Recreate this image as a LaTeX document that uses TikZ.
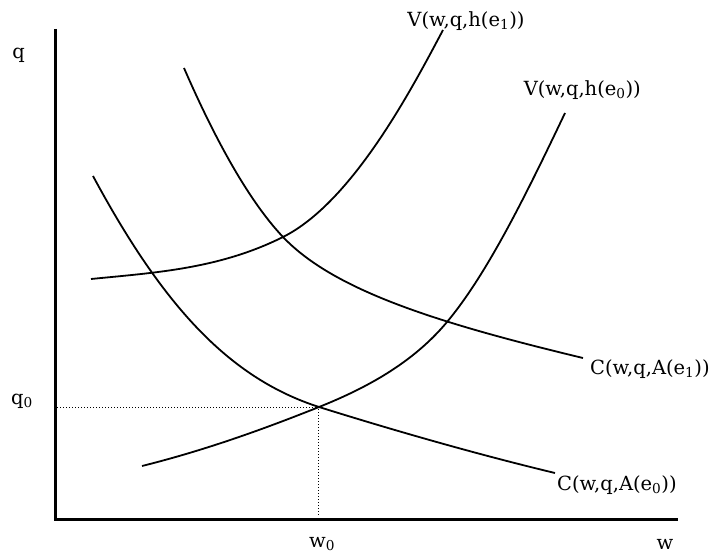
\documentclass[tikz,border=0pt]{standalone}
\usepackage{fontspec}
\setmainfont{DejaVu Serif}
\usetikzlibrary{intersections}
\begin{document}
\begin{tikzpicture}[x=1pt,y=-1pt,
  axis/.style={line width=3pt},
  curve/.style={line width=1.8pt},
  guide/.style={line width=1pt, dotted},
  lbl/.style={font=\fontsize{19.5}{22}\selectfont, inner sep=0pt}]
\useasboundingbox (0,0) rectangle (711,556);
% axes
\coordinate (O) at (55,519);
\coordinate (top) at (55,29);
\coordinate (right) at (678,519);
\draw[axis] (top) -- (O) -- (right);
% V(e1)
\draw[curve] (91,279) .. controls (155,272.6) and (219,269) .. (283,237)
  .. controls (353,202) and (413,86.5) .. (443,30);
% V(e0)
\draw[curve, name path=V0] (142,466) .. controls (202,451) and (259,431) .. (319,407)
  .. controls (364,389) and (412,364) .. (447,322)
  .. controls (487,274) and (525,197) .. (565,113);
% C(e1)
\draw[curve] (184,68) .. controls (214,137) and (248,200) .. (283,237)
  .. controls (333,289.5) and (433,322) .. (583,358);
% C(e0)
\draw[curve, name path=C0] (93,176) .. controls (163,306) and (229,378) .. (319,407)
  .. controls (399,432) and (480,455) .. (555,473);
% guides
\path[name intersections={of=V0 and C0, by=E}];
\coordinate (Ey) at (57,0);
\coordinate (Ex) at (0,517);
\draw[guide] (E -| Ey) -- (E) -- (E |- Ex);
% labels
\node[lbl] (q) at (18.5,55) {q};
\node[lbl] (q0) at (22,401) {q\textsubscript{0}};
\node[lbl] (w0) at (322,544) {w\textsubscript{0}};
\node[lbl] (w) at (665,544) {w};
\node[lbl] (V1) at (466,21) {V(w,q,h(e\textsubscript{1}))};
\node[lbl, anchor=east] (V0) at (641,90) {V(w,q,h(e\textsubscript{0}))};
\node[lbl, anchor=west] (C1) at (590,369) {C(w,q,A(e\textsubscript{1}))};
\node[lbl, anchor=west] (C0) at (557,485) {C(w,q,A(e\textsubscript{0}))};
\end{tikzpicture}
\end{document}
